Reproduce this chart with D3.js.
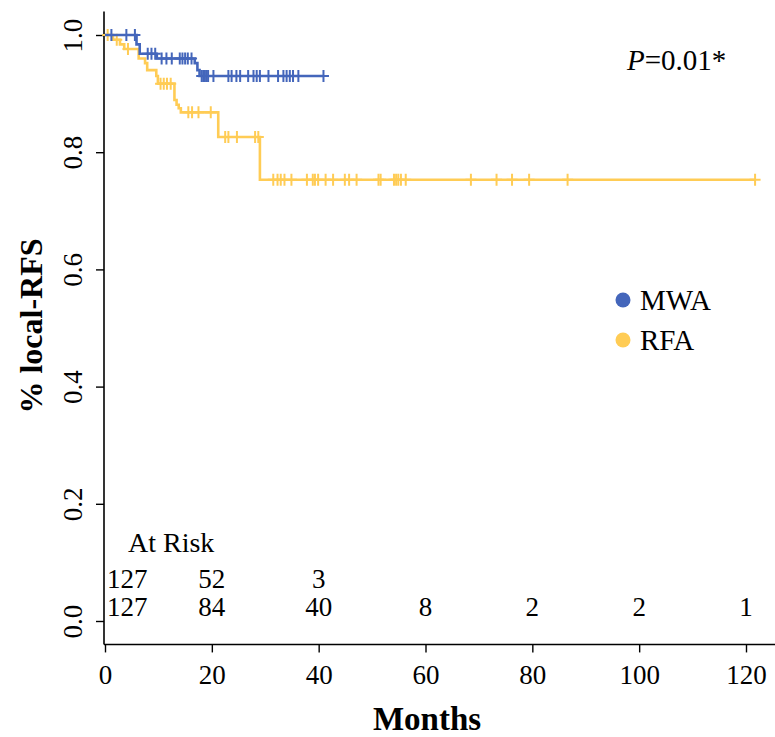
<!DOCTYPE html>
<html>
<head>
<meta charset="utf-8">
<script src="https://cdn.jsdelivr.net/npm/d3@7"></script>
<style>
  body { margin: 0; background: #fff; }
  svg text { font-family: "Liberation Serif", "Times New Roman", serif; fill: #000; }
</style>
</head>
<body>
<svg id="chart" width="775" height="737"></svg>
<script>
// survival steps (time in months, survival after the event)
var mwaTimes = [0, 5.9, 6.5, 9.7, 16.8, 17.3, 17.7, 40.9];
var mwaSurv = [1, 0.984, 0.968, 0.960, 0.952, 0.940, 0.930, 0.930];
var mwaCensor = [1.2, 4.0, 5.6, 8.0, 8.7, 9.4, 10.6, 11.5, 12.5, 14.0, 14.5, 15.0, 15.5, 16.2,
  18.1, 18.4, 18.7, 19.0, 19.3, 20.3, 23.1, 23.7, 24.6, 25.3, 26.8, 27.8, 28.4, 29.0, 30.6,
  32.4, 33.4, 34.0, 34.6, 35.2, 36.2, 40.9];

var rfaTimes = [0, 1.5, 2.8, 3.6, 6.3, 7.5, 7.9, 9.6, 9.9, 13.0, 13.4, 13.8, 14.2, 21.2, 29.0, 121.7];
var rfaSurv = [1, 0.992, 0.984, 0.976, 0.960, 0.952, 0.940, 0.930, 0.917, 0.889, 0.881, 0.875, 0.868, 0.826, 0.753, 0.753];
var rfaCensor = [0.5, 2.2, 4.3, 10.4, 11.0, 11.6, 12.3, 15.6, 16.3, 17.5, 19.8, 22.5, 23.1, 24.7, 28.1, 28.7,
  31.5, 32.3, 32.9, 33.6, 34.9, 37.8, 38.9, 39.3, 39.9, 41.3, 42.7, 44.9, 45.7, 47.1, 51.2, 51.6,
  54.1, 54.5, 54.9, 55.4, 56.3, 68.5, 73.3, 76.2, 79.4, 86.6, 121.7];

var xTicks = [0, 20, 40, 60, 80, 100, 120];
var yTicks = [0, 0.2, 0.4, 0.6, 0.8, 1.0];
var riskTimes = [0, 20, 40, 60, 80, 100, 120];
var riskMWA = ["127", "52", "3"];
var riskRFA = ["127", "84", "40", "8", "2", "2", "1"];

var groups = [
  { name: "MWA", times: mwaTimes, surv: mwaSurv, censor: mwaCensor, color: "#4466bb" },
  { name: "RFA", times: rfaTimes, surv: rfaSurv, censor: rfaCensor, color: "#ffcc55" }
];

var svg = d3.select("#chart");
var x = d3.scaleLinear().domain([0, 120]).range([105, 746]);
var y = d3.scaleLinear().domain([0, 1]).range([621, 35]);

// L-shaped frame
svg.append("line")
  .attr("x1", x(0) - 1).attr("x2", 775)
  .attr("y1", y(-0.04)).attr("y2", y(-0.04))
  .attr("stroke", "#000").attr("stroke-width", 1.6);
svg.append("line")
  .attr("x1", x(0) - 1).attr("x2", x(0) - 1)
  .attr("y1", y(1.04)).attr("y2", y(-0.04))
  .attr("stroke", "#000").attr("stroke-width", 1.6);

var xAxis = svg.append("g")
  .attr("transform", "translate(0," + y(-0.04) + ")")
  .call(d3.axisBottom(x).tickValues(xTicks).tickSize(8).tickPadding(12).tickFormat(d3.format("d")));
xAxis.select(".domain").remove();
xAxis.selectAll("line").attr("stroke-width", 1.4);
xAxis.selectAll("text").style("font-size", "27px").attr("font-family", null);

var yAxis = svg.append("g")
  .attr("transform", "translate(" + (x(0) - 1) + ",0)")
  .call(d3.axisLeft(y).tickValues(yTicks).tickSize(8).tickFormat(d3.format(".1f")));
yAxis.select(".domain").remove();
yAxis.selectAll("line").attr("stroke-width", 1.4);
yAxis.selectAll("text")
  .attr("x", null).attr("dy", null)
  .attr("text-anchor", "middle")
  .attr("transform", "translate(-22,0) rotate(-90)")
  .style("font-size", "27px");

svg.append("text")
  .attr("transform", "translate(42,326) rotate(-90)")
  .attr("text-anchor", "middle")
  .style("font-size", "32px").style("font-weight", "bold")
  .text("% local-RFS");

svg.append("text")
  .attr("x", 427).attr("y", 730)
  .attr("text-anchor", "middle")
  .style("font-size", "33px").style("font-weight", "bold")
  .text("Months");

// curves
var line = d3.line()
  .x(function (d) { return x(d[0]); })
  .y(function (d) { return y(d[1]); })
  .curve(d3.curveStepAfter);

function survAt(g, t) {
  var s = g.surv[0];
  for (var i = 0; i < g.times.length; i++) {
    if (g.times[i] <= t) s = g.surv[i];
  }
  return s;
}

// draw RFA first so MWA sits on top
groups.slice().reverse().forEach(function (g) {
  var pts = g.times.map(function (t, i) { return [t, g.surv[i]]; });
  svg.append("path")
    .datum(pts)
    .attr("d", line)
    .attr("fill", "none")
    .attr("stroke", g.color)
    .attr("stroke-width", 2.6);

  var marks = svg.append("g").attr("stroke", g.color).attr("stroke-width", 2);
  marks.selectAll("path")
    .data(g.censor)
    .join("path")
    .attr("d", function (t) {
      var cx = x(t), cy = y(survAt(g, t));
      return "M" + (cx - 5.5) + "," + cy + "H" + (cx + 5.5) + "M" + cx + "," + (cy - 6) + "V" + (cy + 6);
    });
});

// p value
var p = svg.append("text").attr("x", 627).attr("y", 70).style("font-size", "29px");
p.append("tspan").style("font-style", "italic").text("P");
p.append("tspan").text("=0.01*");

// legend
var legend = svg.append("g");
groups.forEach(function (g, i) {
  legend.append("circle")
    .attr("cx", 623).attr("cy", 300 + i * 40).attr("r", 7.5)
    .attr("fill", g.color);
  legend.append("text")
    .attr("x", 640).attr("y", 310 + i * 40)
    .style("font-size", "29px")
    .text(g.name);
});

// numbers at risk
svg.append("text").attr("x", 128).attr("y", 552).style("font-size", "28px").text("At Risk");
[riskMWA, riskRFA].forEach(function (row, r) {
  svg.append("g").selectAll("text")
    .data(row)
    .join("text")
    .attr("x", function (d, i) { return i === 0 ? x(riskTimes[i]) + 2 : x(riskTimes[i]); })
    .attr("y", 588 + r * 28)
    .attr("text-anchor", function (d, i) { return i === 0 ? "start" : "middle"; })
    .style("font-size", "27px")
    .text(function (d) { return d; });
});
</script>
</body>
</html>
